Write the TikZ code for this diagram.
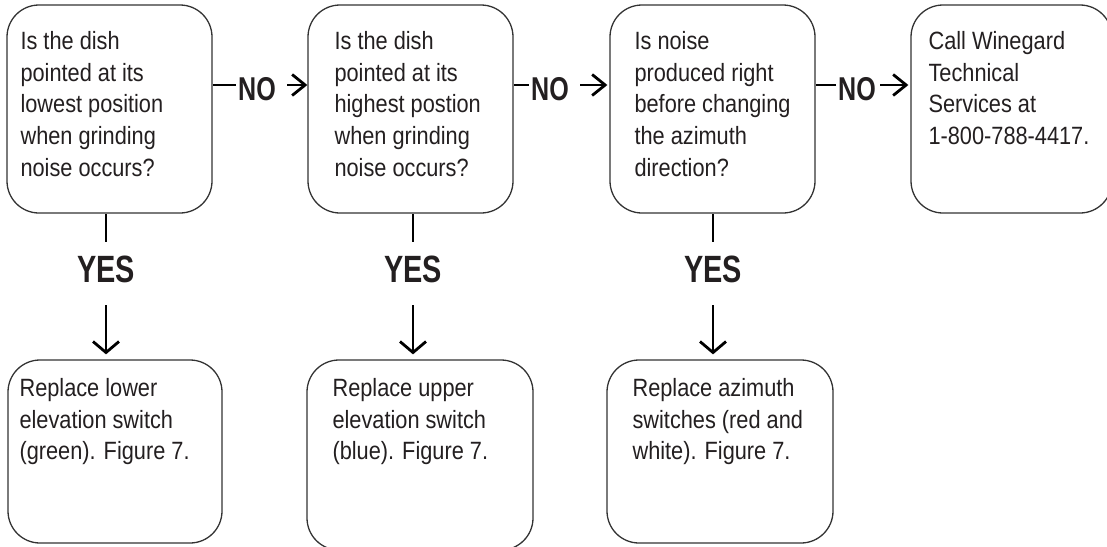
\documentclass[tikz,border=0pt]{standalone}
\usepackage{fontspec}
\newfontfamily\boxfont{Liberation Sans}[FakeStretch=0.87]
\newfontfamily\tagfont{Liberation Sans}[FakeStretch=0.76]
\usetikzlibrary{arrows.meta}
\definecolor{inkgray}{HTML}{231F20}
\definecolor{framegray}{HTML}{333333}
\tikzset{
  qbox/.style={draw=framegray, line width=1.3pt, rounded corners=32pt, inner sep=0pt},
  boxtext/.style={anchor=base west, align=left, inner sep=0pt, text=inkgray,
    font=\boxfont\fontsize{25}{31.7}\selectfont}, % base = last line
  notag/.style={font=\tagfont\bfseries\fontsize{33}{33}\selectfont, text=inkgray,
    inner xsep=2pt, inner ysep=0pt, text height=23.6pt, text depth=0pt},
  yestag/.style={font=\tagfont\bfseries\fontsize{38}{38}\selectfont, text=inkgray,
    inner xsep=0pt, inner ysep=13pt, text height=27.2pt, text depth=0pt},
  link/.style={line width=2.8pt, black},
  noarrow/.style={link, -{Straight Barb[length=13pt, width=21pt]}},
  yesarrow/.style={link, -{Straight Barb[length=11pt, width=26pt]}},
}
\begin{document}
\begin{tikzpicture}[x=1pt, y=-1pt]
    \useasboundingbox (0,0) rectangle (1107,546);

    % Question boxes
    \node[qbox, minimum width=205pt, minimum height=208pt] (q1) at (109.5,109) {};
    \node[qbox, minimum width=205pt, minimum height=208pt] (q2) at (410.5,109) {};
    \node[qbox, minimum width=205pt, minimum height=208pt] (q3) at (712.5,109) {};
    \node[qbox, minimum width=201pt, minimum height=208pt] (q4) at (1011.5,109) {}; % runs past the right edge

    \node[boxtext] (q1t) at ([shift={(14,171.8)}]q1.north west) {Is the dish\\pointed at its\\lowest position\\when grinding\\noise occurs?};
    \node[boxtext] (q2t) at ([shift={(27,171.8)}]q2.north west) {Is the dish\\pointed at its\\highest postion\\when grinding\\noise occurs?};
    \node[boxtext] (q3t) at ([shift={(25,171.8)}]q3.north west) {Is noise\\produced right\\before changing\\the azimuth\\direction?};
    \node[boxtext] (q4t) at ([shift={(18,140.1)}]q4.north west) {Call Winegard\\Technical\\Services at\\1-800-788-4417.};

    % Answer boxes
    \node[qbox, minimum width=214pt, minimum height=183pt] (a1) at (115,451.5) {};
    \node[qbox, minimum width=226pt, minimum height=190pt] (a2) at (420,455) {};
    \node[qbox, minimum width=226pt, minimum height=183pt] (a3) at (720,451.5) {};

    \node[boxtext] (a1t) at ([shift={(12,100.4)}]a1.north west) {Replace lower\\elevation switch\\(green). Figure 7.};
    \node[boxtext] (a2t) at ([shift={(26,100.4)}]a2.north west) {Replace upper\\elevation switch\\(blue). Figure 7.};
    \node[boxtext] (a3t) at ([shift={(26,100.4)}]a3.north west) {Replace azimuth\\switches (red and\\white). Figure 7.};

    % NO links
    \node[notag] (no1) at (257,89) {NO};
    \node[notag] (no2) at (550,89) {NO};
    \node[notag] (no3) at (857,89) {NO};

    \draw[link] ([yshift=4pt]no1.west) -- ([yshift=4pt]no1.west -| q1.east);
    \draw[noarrow, shorten <=9pt] ([yshift=4pt]no1.east) -- ([yshift=4pt]no1.east -| q2.west);
    \draw[link] ([yshift=4pt]no2.west) -- ([yshift=4pt]no2.west -| q2.east);
    \draw[noarrow, shorten <=9pt, shorten >=2pt] ([yshift=4pt]no2.east) -- ([yshift=4pt]no2.east -| q3.west);
    \draw[link] ([yshift=4pt]no3.west) -- ([yshift=4pt]no3.west -| q3.east);
    \draw[noarrow, shorten <=2pt, shorten >=2pt] ([yshift=4pt]no3.east) -- ([yshift=4pt]no3.east -| q4.west);

    % YES links
    \node[yestag] (yes1) at (106,268.5) {YES};
    \node[yestag] (yes2) at (413,268.5) {YES};
    \node[yestag] (yes3) at (713,268.5) {YES};

    \draw[link] (yes1.north) -- (yes1.north |- q1.south);
    \draw[yesarrow, shorten <=10pt, shorten >=5pt] (yes1.south) -- (yes1.south |- a1.north);
    \draw[link] (yes2.north) -- (yes2.north |- q2.south);
    \draw[yesarrow, shorten <=10pt, shorten >=5pt] (yes2.south) -- (yes2.south |- a2.north);
    \draw[link] (yes3.north) -- (yes3.north |- q3.south);
    \draw[yesarrow, shorten <=10pt, shorten >=5pt] (yes3.south) -- (yes3.south |- a3.north);
\end{tikzpicture}
\end{document}
